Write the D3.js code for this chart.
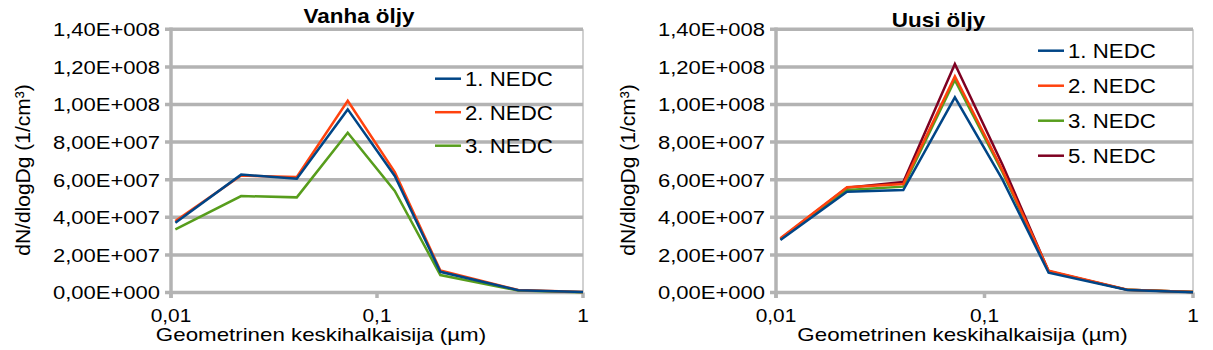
<!DOCTYPE html>
<html>
<head>
<meta charset="utf-8">
<script src="https://cdn.jsdelivr.net/npm/d3@7"></script>
<style>
  body { margin: 0; background: #fff; }
  svg { display: block; font-family: "Liberation Sans", Arial, sans-serif; }
</style>
</head>
<body>
<div id="chart"></div>
<script>
// particle diameters (µm)
const diam = [0.0105, 0.0219, 0.0408, 0.0721, 0.122, 0.203, 0.485, 1.0];

// Vanha öljy
const vanha1 = [3.71e7, 6.27e7, 6.05e7, 9.74e7, 6.2e7, 1.10e7, 0.12e7, 0.02e7];
const vanha2 = [3.80e7, 6.22e7, 6.14e7, 10.2e7, 6.4e7, 1.17e7, 0.13e7, 0.02e7];
const vanha3 = [3.36e7, 5.13e7, 5.06e7, 8.5e7, 5.4e7, 0.93e7, 0.10e7, 0.01e7];

// Uusi öljy
const uusi1 = [2.79e7, 5.36e7, 5.45e7, 10.38e7, 6.0e7, 1.05e7, 0.13e7, 0.01e7];
const uusi2 = [2.88e7, 5.60e7, 5.77e7, 11.5e7, 6.5e7, 1.16e7, 0.15e7, 0.02e7];
const uusi3 = [2.85e7, 5.45e7, 5.63e7, 11.3e7, 6.4e7, 1.12e7, 0.14e7, 0.02e7];
const uusi5 = [2.85e7, 5.58e7, 5.88e7, 12.15e7, 6.8e7, 1.13e7, 0.14e7, 0.02e7];

const yTicks = [0, 2e7, 4e7, 6e7, 8e7, 10e7, 12e7, 14e7];
const xTicks = [0.01, 0.1, 1];

const COLORS = { "1. NEDC": "#004586", "2. NEDC": "#ff420e", "3. NEDC": "#579d1c", "5. NEDC": "#7e0021" };

const charts = [
  {
    title: "Vanha öljy", x0: 171, x1: 583, titleX: 359, titleY: 23,
    ylabX: 30, tickX: 160, xTitleX: 321, legX: 435, legY: 78.7, legStep: 33.5,
    series: [{ name: "1. NEDC", v: vanha1 }, { name: "2. NEDC", v: vanha2 }, { name: "3. NEDC", v: vanha3 }]
  },
  {
    title: "Uusi öljy", x0: 776, x1: 1193, titleX: 938.5, titleY: 26.5,
    ylabX: 635, tickX: 765, xTitleX: 962.5, legX: 1038, legY: 50.7, legStep: 35,
    series: [{ name: "1. NEDC", v: uusi1 }, { name: "2. NEDC", v: uusi2 }, { name: "3. NEDC", v: uusi3 }, { name: "5. NEDC", v: uusi5 }]
  }
];

const W = 1213, H = 350;
const yTop = 29.3, yBot = 292.5;
const GRID = "#b3b3b3";

const svg = d3.select("#chart").append("svg").attr("width", W).attr("height", H);
svg.append("rect").attr("width", W).attr("height", H).attr("fill", "#fff");

const yFmt = d => {
  if (d === 0) return "0,00E+000";
  const e = Math.floor(Math.log10(d) + 1e-9);
  const m = d / Math.pow(10, e);
  return m.toFixed(2).replace(".", ",") + "E+" + String(e).padStart(3, "0");
};

function stext(g, str, x, y, size, sx, anchor, weight) {
  return g.append("text")
    .attr("transform", `translate(${x},${y}) scale(${sx},1)`)
    .attr("text-anchor", anchor)
    .attr("font-size", size)
    .attr("font-weight", weight || "normal")
    .attr("fill", "#000")
    .text(str);
}

charts.forEach(c => {
  const g = svg.append("g");
  const x = d3.scaleLog().domain([0.01, 1]).range([c.x0, c.x1]);
  const y = d3.scaleLinear().domain([0, 1.4e8]).range([yBot, yTop]);

  // right border
  g.append("line").attr("x1", c.x1).attr("x2", c.x1).attr("y1", y(1.4e8)).attr("y2", y(0))
    .attr("stroke", GRID).attr("stroke-width", 1.2);

  // horizontal grid + ticks
  g.selectAll(".grid").data(yTicks).join("line")
    .attr("x1", c.x0 - 6).attr("x2", c.x1)
    .attr("y1", d => y(d)).attr("y2", d => y(d))
    .attr("stroke", GRID).attr("stroke-width", 3.5);

  // x ticks
  g.selectAll(".xt").data(xTicks).join("line")
    .attr("x1", d => x(d)).attr("x2", d => x(d))
    .attr("y1", y(0)).attr("y2", y(0) + 5.5)
    .attr("stroke", GRID).attr("stroke-width", 3.5);

  // left axis
  g.append("line").attr("x1", c.x0).attr("x2", c.x0).attr("y1", y(1.4e8) - 1.75).attr("y2", y(0) + 5.5)
    .attr("stroke", GRID).attr("stroke-width", 3.5);

  // y tick labels
  yTicks.forEach(t => stext(g, yFmt(t), c.tickX, y(t) + 6.8, 18.5, 1.19, "end"));
  // x tick labels
  xTicks.forEach(t => stext(g, String(t).replace(".", ","), x(t), 321.5, 18.5, 1.13, "middle"));

  // titles
  stext(g, c.title, c.titleX, c.titleY, 19.5, 1.15, "middle", "bold");
  stext(g, "Geometrinen keskihalkaisija (µm)", c.xTitleX, 340.5, 18, 1.24, "middle");
  g.append("text")
    .attr("transform", `translate(${c.ylabX},170) rotate(-90)`)
    .attr("text-anchor", "middle").attr("font-size", 21).attr("fill", "#000")
    .text("dN/dlogDg (1/cm³)");

  // lines, drawn in reverse so series 1 is on top
  const line = d3.line().x((d, i) => x(diam[i])).y(d => y(d));
  c.series.slice().reverse().forEach(s => {
    g.append("path").datum(s.v).attr("d", line)
      .attr("fill", "none").attr("stroke", COLORS[s.name])
      .attr("stroke-width", 2.5).attr("stroke-linejoin", "miter");
  });

  // legend
  c.series.forEach((s, i) => {
    const ly = c.legY + i * c.legStep;
    g.append("line").attr("x1", c.legX).attr("x2", c.legX + 26).attr("y1", ly).attr("y2", ly)
      .attr("stroke", COLORS[s.name]).attr("stroke-width", 2.5);
    stext(g, s.name, c.legX + 30, ly + 7.4, 21, 1.06, "start");
  });
});
</script>
</body>
</html>
